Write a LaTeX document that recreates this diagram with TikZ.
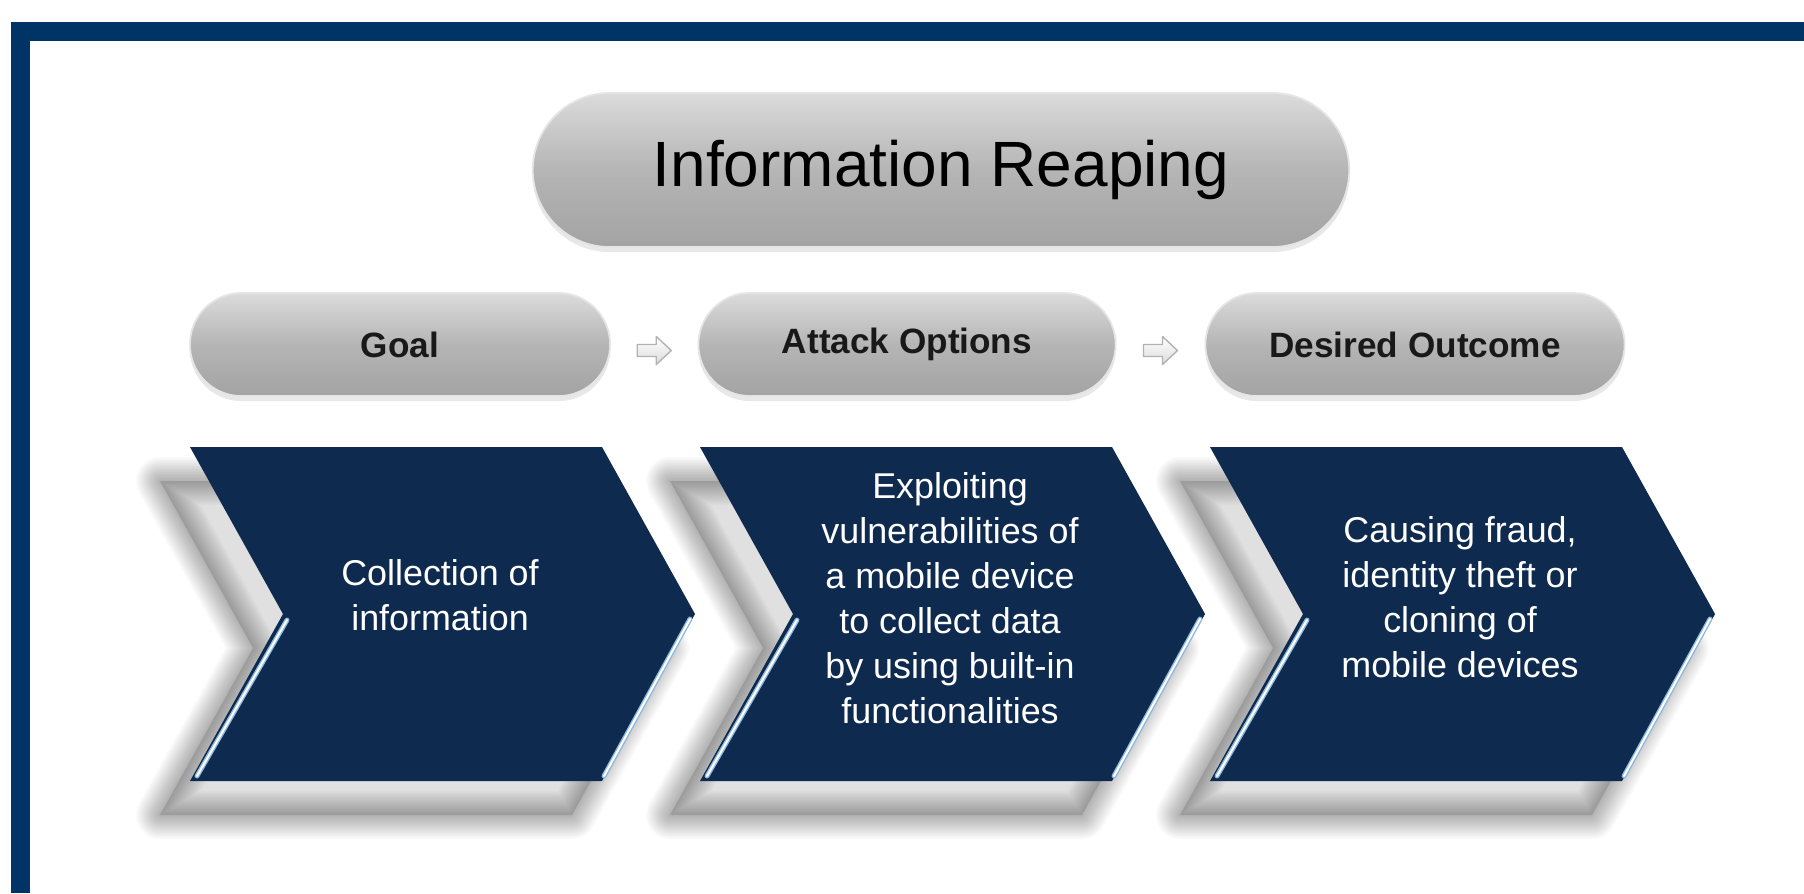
\documentclass[tikz,border=0pt]{standalone}
\usepackage{fontspec}
\setmainfont{Liberation Sans}
\usetikzlibrary{calc,shapes.misc,shadows}
\definecolor{frameblue}{HTML}{003466}
\definecolor{chevblue}{HTML}{0E2A4F}
\definecolor{bevelblue}{HTML}{8CB8E0}
\tikzset{
  pill/.style={rounded rectangle, draw=black!10, line width=0.5pt, inner sep=0pt,
    top color=black!14, bottom color=black!36, middle color=black!29,
    drop shadow={shadow xshift=0cm, shadow yshift=-0.05cm, opacity=0.18}},
  pilltext/.style={font=\bfseries\fontsize{10pt}{12pt}\selectfont, text=black!90},
  chevtext/.style={text=white, align=center, inner sep=0pt,
    font=\fontsize{10.2pt}{12.8pt}\selectfont},
  gaparrow/.style={draw=black!30, line width=0.4pt, line join=round,
    top color=white, bottom color=black!14},
}

\begin{document}
\begin{tikzpicture}[x=0.01cm, y=-0.01cm]

  \newcommand\cTop{447}
  \newcommand\cBot{781}
  \newcommand\cMid{614}
  \newcommand\cW{412}
  \newcommand\cTip{93}
  \newcommand\chevpts[1]{(#1,\cTop) -- (#1+\cW,\cTop) -- (#1+\cW+\cTip,\cMid)
    -- (#1+\cW,\cBot) -- (#1,\cBot) -- (#1+\cTip,\cMid) -- cycle}

  %% <spacing>
  \useasboundingbox[fill=white] (0,0) rectangle (1804,893);
  % </spacing>

  %% frame
  \fill[frameblue] (11,22) rectangle (1804,41);
  \fill[frameblue] (11,22) rectangle (30,893);

  %% title and the three headers
  \node[pill, minimum width=8.16cm, minimum height=1.54cm,
    font=\fontsize{18.2pt}{20pt}\selectfont] (reaping) at (941,170) {Information Reaping};
  \node[pill, pilltext, minimum width=4.2cm, minimum height=1.03cm] (goal) at (400,344.5) {Goal};
  \node[pill, pilltext, minimum width=4.17cm, minimum height=1.03cm] (attack) at (907,344.5) {Attack Options};
  \node[pill, pilltext, minimum width=4.19cm, minimum height=1.03cm] (outcome) at (1415,344.5) {Desired Outcome};

  \coordinate (gap1) at ($(goal.east)!0.5!(attack.west)$);
  \coordinate (gap2) at ($(attack.east)!0.5!(outcome.west)$);
  \foreach \g in {gap1,gap2}
    \draw[gaparrow] (\g) ++(-17,0) -- ++(19,0) -- ++(0,-8) -- ++(15,14)
      -- ++(-15,14) -- ++(0,-8) -- ++(-19,0) -- cycle; % A->B

  %% shadows of the chevrons
  \begin{scope}[shift={(-30,34)}]
    \foreach \L in {190,700,1210}{
      \fill[black, opacity=0.12] \chevpts{\L};
      \foreach \w in {3,6,...,48}
        \draw[black, opacity=0.018, line width=\w*0.2845pt, line join=round] \chevpts{\L};
    }
  \end{scope}

  %% chevrons
  \foreach \L in {190,700,1210}{
    \fill[chevblue] \chevpts{\L};
    \draw[bevelblue, line width=1.4pt, line cap=round] (\L+\cTip+4,\cMid+6) -- (\L+7,\cBot-5);
    \draw[white, line width=0.6pt, line cap=round] (\L+\cTip+4,\cMid+6) -- (\L+7,\cBot-5);
    \draw[bevelblue, line width=1.4pt, line cap=round] (\L+\cW+\cTip-5,\cMid+5) -- (\L+\cW+2,\cBot-5);
    \draw[white, line width=0.6pt, line cap=round] (\L+\cW+\cTip-5,\cMid+5) -- (\L+\cW+2,\cBot-5);
  }

  \node[chevtext] (goaltext) at (440,595) {Collection of\\information};
  \node[chevtext] (attacktext) at (950,598) {Exploiting\\vulnerabilities of\\a mobile device\\to collect data\\by using built-in\\functionalities};
  \node[chevtext] (outcometext) at (1460,597) {Causing fraud,\\identity theft or\\cloning of\\mobile devices};

\end{tikzpicture}
\end{document}
